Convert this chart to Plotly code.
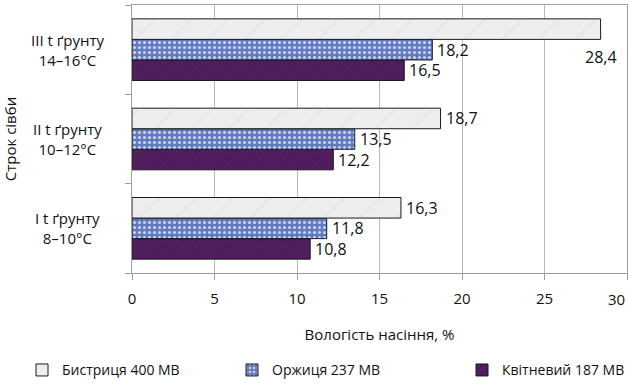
import plotly.graph_objects as go

categories = ["I t ґрунту<br>8–10°C", "II t ґрунту<br>10–12°C", "III t ґрунту<br>14–16°C"]
series_names = ["Бистриця 400 МВ", "Оржиця 237 МВ", "Квітневий 187 МВ"]
bystrytsia = [16.3, 18.7, 28.4]
orzhytsia = [11.8, 13.5, 18.2]
kvitnevyi = [10.8, 12.2, 16.5]
x_ticks = [0, 5, 10, 15, 20, 25, 30]

FONT = "Open Sans"
bargap = 0.31
w = (1 - bargap) / 3

fig = go.Figure()
styles = {
    "Квітневий 187 МВ": dict(bg="#4f1c5e", fg="#582567", shape="x", size=9, sol=0.1, legend="legend3"),
    "Оржиця 237 МВ": dict(bg="#6179bd", fg="#c9d3f0", shape=".", size=5, sol=0.3, legend="legend2"),
    "Бистриця 400 МВ": dict(bg="#eeeeee", fg="#e3e3e3", shape="/", size=26, sol=0.05, legend="legend"),
}
order = [("Квітневий 187 МВ", kvitnevyi), ("Оржиця 237 МВ", orzhytsia), ("Бистриця 400 МВ", bystrytsia)]
for name, vals in order:
    s = styles[name]
    fig.add_trace(go.Bar(
        x=vals, y=categories, name=name, orientation="h", legend=s["legend"],
        marker=dict(color=s["bg"], line=dict(color="#1a1a1a", width=1),
                    pattern=dict(shape=s["shape"], fgcolor=s["fg"], bgcolor=s["bg"],
                                 size=s["size"], solidity=s["sol"], fillmode="replace")),
    ))

# value labels
offsets = {"Квітневий 187 МВ": -w, "Оржиця 237 МВ": 0.0, "Бистриця 400 МВ": w}
annotations = []
for name, vals in order:
    for i, v in enumerate(vals):
        txt = f"{v:.1f}".replace(".", ",")
        if v >= 27:
            annotations.append(dict(x=v, y=i + offsets["Оржиця 237 МВ"] - 0.08, xref="x", yref="y",
                                    text=txt, showarrow=False, xanchor="center", yanchor="middle",
                                    font=dict(family=FONT, size=16, color="#111")))
        else:
            annotations.append(dict(x=v, y=i + offsets[name], xref="x", yref="y",
                                    text=txt, showarrow=False, xanchor="left", yanchor="middle",
                                    xshift=3, font=dict(family=FONT, size=16, color="#111")))

# centered category labels
for i, c in enumerate(categories):
    annotations.append(dict(x=-0.13, xref="paper", y=i, yref="y", text=c, showarrow=False,
                            xanchor="center", yanchor="middle", align="center",
                            font=dict(family=FONT, size=15, color="#111")))

# last x tick label, kept inside the figure edge
annotations.append(dict(x=x_ticks[-1], xref="x", y=0, yref="paper", yshift=-14,
                        text=str(x_ticks[-1]), showarrow=False, xanchor="right", yanchor="top",
                        font=dict(family=FONT, size=15, color="#111")))

leg_common = dict(orientation="h", xref="container", yref="container", y=0.043,
                  xanchor="left", yanchor="middle", bgcolor="rgba(0,0,0,0)",
                  font=dict(family=FONT, size=14, color="#111"), itemclick=False,
                  itemdoubleclick=False)
fig.update_layout(
    width=629, height=387,
    margin=dict(l=132, r=2, t=5, b=114, autoexpand=False),
    paper_bgcolor="white", plot_bgcolor="white",
    barmode="group", bargap=bargap, bargroupgap=0,
    font=dict(family=FONT, size=15, color="#111"),
    showlegend=True,
    legend=dict(leg_common, x=22 / 629),
    legend2=dict(leg_common, x=232 / 629),
    legend3=dict(leg_common, x=462 / 629),
    annotations=annotations,
)
fig.update_xaxes(range=[0, 30], tickvals=x_ticks,
                 ticktext=[str(t) for t in x_ticks[:-1]] + [""],
                 showgrid=True, gridcolor="#b8b8b8", gridwidth=1,
                 showline=True, linecolor="#a0a0a0", mirror=True,
                 ticks="outside", ticklen=6, tickcolor="#a0a0a0", ticklabelstandoff=6,
                 tickfont=dict(family=FONT, size=15), zeroline=False,
                 title=dict(text="Вологість насіння, %", font=dict(family=FONT, size=15), standoff=22))
fig.update_yaxes(showticklabels=False, showline=True, linecolor="#a0a0a0", mirror=True,
                 ticks="outside", tickson="boundaries", ticklen=6, tickcolor="#a0a0a0",
                 showgrid=False,
                 title=dict(text="Строк сівби", font=dict(family=FONT, size=15), standoff=112))

fig.write_html("out.html", config={"displayModeBar": False},
               post_script="document.body.style.margin='0';")
